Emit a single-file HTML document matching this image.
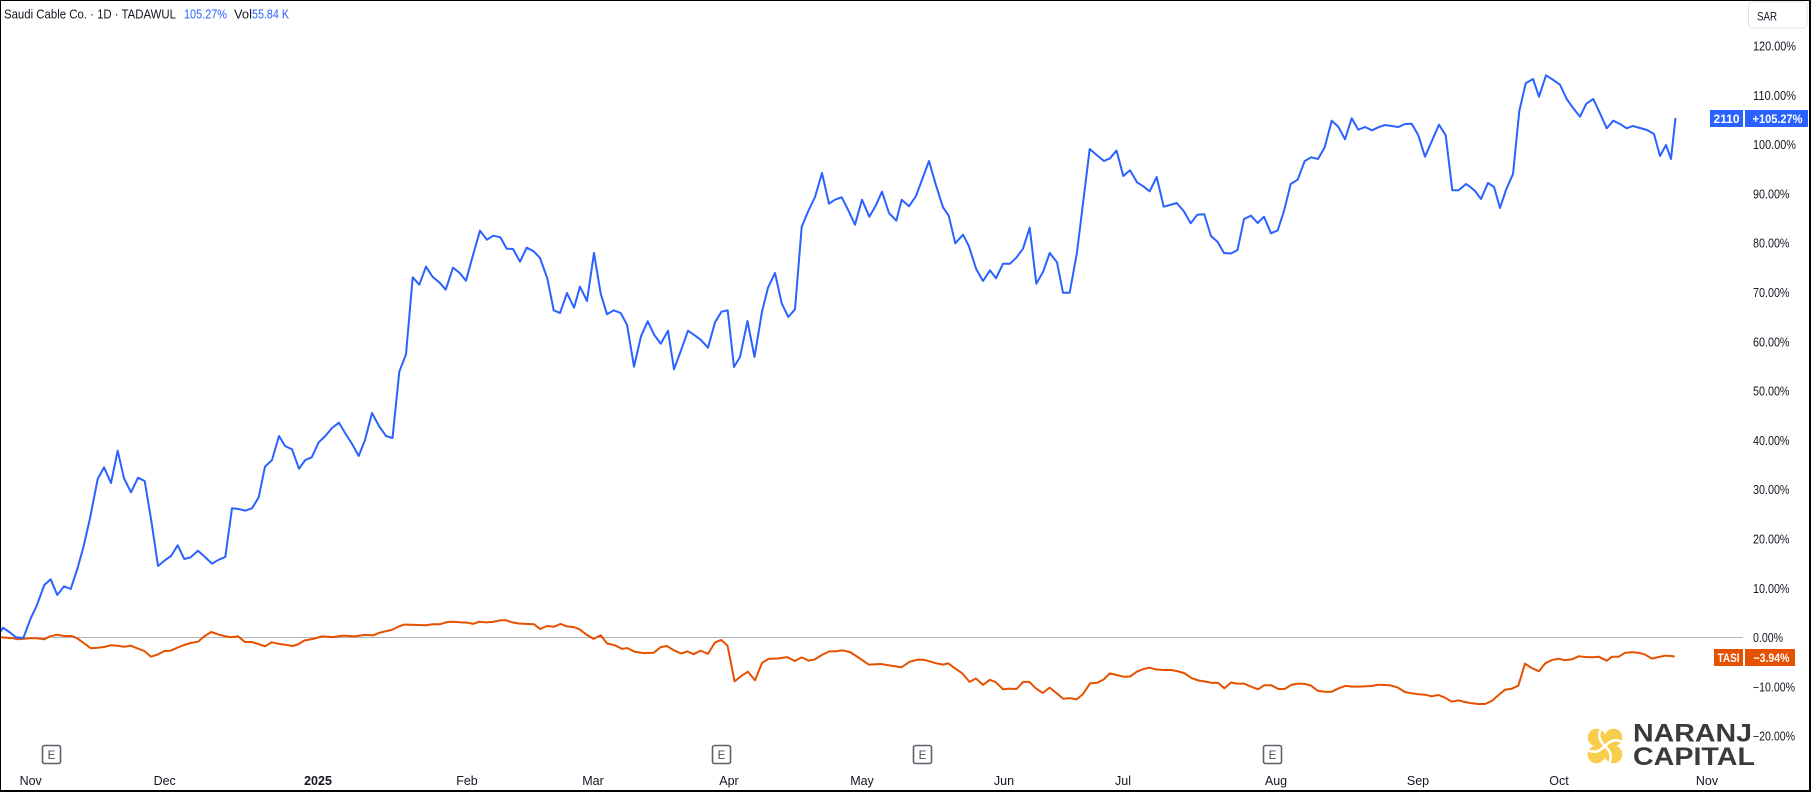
<!DOCTYPE html>
<html>
<head>
<meta charset="utf-8">
<style>
html,body{margin:0;padding:0;background:#fff;}
svg{display:block;}
text{font-family:"Liberation Sans",Arial,sans-serif;}
</style>
</head>
<body>
<svg width="1811" height="792" viewBox="0 0 1811 792" xmlns="http://www.w3.org/2000/svg">
<rect x="0" y="0" width="1811" height="792" fill="#ffffff"/>

<!-- zero line -->
<line x1="0" y1="637.5" x2="1743" y2="637.5" stroke="#b2b5be" stroke-width="1"/>

<!-- header -->
<text x="4" y="18.5" font-size="12.5" fill="#131722" textLength="172" lengthAdjust="spacingAndGlyphs">Saudi Cable Co. · 1D · TADAWUL</text>
<text x="184" y="18.5" font-size="12.5" fill="#2962ff" textLength="43" lengthAdjust="spacingAndGlyphs">105.27%</text>
<text x="234" y="18.5" font-size="12.5" fill="#131722" textLength="18" lengthAdjust="spacingAndGlyphs">Vol</text>
<text x="252" y="18.5" font-size="12.5" fill="#2962ff" textLength="37" lengthAdjust="spacingAndGlyphs">55.84 K</text>

<!-- SAR box -->
<rect x="1748.5" y="2" width="58.5" height="26" rx="4" fill="#fff" stroke="#e0e3eb" stroke-width="1"/>
<text x="1757" y="20.7" font-size="12" fill="#131722" textLength="20" lengthAdjust="spacingAndGlyphs">SAR</text>

<!-- y-axis labels -->
<g font-size="12.5" fill="#131722">
<text x="1753" y="50.5" textLength="43" lengthAdjust="spacingAndGlyphs">120.00%</text>
<text x="1753" y="99.8" textLength="43" lengthAdjust="spacingAndGlyphs">110.00%</text>
<text x="1753" y="149.1" textLength="43" lengthAdjust="spacingAndGlyphs">100.00%</text>
<text x="1753" y="198.4" textLength="36.5" lengthAdjust="spacingAndGlyphs">90.00%</text>
<text x="1753" y="247.7" textLength="36.5" lengthAdjust="spacingAndGlyphs">80.00%</text>
<text x="1753" y="297" textLength="36.5" lengthAdjust="spacingAndGlyphs">70.00%</text>
<text x="1753" y="346.3" textLength="36.5" lengthAdjust="spacingAndGlyphs">60.00%</text>
<text x="1753" y="395.6" textLength="36.5" lengthAdjust="spacingAndGlyphs">50.00%</text>
<text x="1753" y="444.9" textLength="36.5" lengthAdjust="spacingAndGlyphs">40.00%</text>
<text x="1753" y="494.2" textLength="36.5" lengthAdjust="spacingAndGlyphs">30.00%</text>
<text x="1753" y="543.5" textLength="36.5" lengthAdjust="spacingAndGlyphs">20.00%</text>
<text x="1753" y="592.8" textLength="36.5" lengthAdjust="spacingAndGlyphs">10.00%</text>
<text x="1753" y="642.1" textLength="30" lengthAdjust="spacingAndGlyphs">0.00%</text>
<text x="1753" y="691.4" textLength="42" lengthAdjust="spacingAndGlyphs">−10.00%</text>
<text x="1753" y="740.7" textLength="42" lengthAdjust="spacingAndGlyphs">−20.00%</text>
</g>

<!-- x-axis labels -->
<g font-size="12.5" fill="#131722" text-anchor="middle">
<text x="30.7" y="785">Nov</text>
<text x="164.7" y="785">Dec</text>
<text x="318" y="785" font-weight="bold">2025</text>
<text x="467" y="785">Feb</text>
<text x="593" y="785">Mar</text>
<text x="729" y="785">Apr</text>
<text x="862" y="785">May</text>
<text x="1004" y="785">Jun</text>
<text x="1123" y="785">Jul</text>
<text x="1276" y="785">Aug</text>
<text x="1418" y="785">Sep</text>
<text x="1559" y="785">Oct</text>
<text x="1707" y="785">Nov</text>
</g>

<!-- E markers -->
<g font-size="11.5" fill="#4a4a4a" text-anchor="middle">
<rect x="42.5" y="745.5" width="18" height="18" rx="2" fill="#fff" stroke="#5d606b" stroke-width="1.6"/>
<text x="51.5" y="759">E</text>
<rect x="712.5" y="745.5" width="18" height="18" rx="2" fill="#fff" stroke="#5d606b" stroke-width="1.6"/>
<text x="721.5" y="759">E</text>
<rect x="913.5" y="745.5" width="18" height="18" rx="2" fill="#fff" stroke="#5d606b" stroke-width="1.6"/>
<text x="922.5" y="759">E</text>
<rect x="1263.5" y="745.5" width="18" height="18" rx="2" fill="#fff" stroke="#5d606b" stroke-width="1.6"/>
<text x="1272.5" y="759">E</text>
</g>

<!-- TASI orange line -->
<polyline fill="none" stroke="#e65100" stroke-width="2" stroke-linejoin="round" points="0,637.3 13.3,638.3 18.3,639.3 30,638.3 36.7,638.3 44,639.3 50,636.3 57.3,634.7 64,636 71.7,636 77.3,638.3 84,643.3 91,648.3 97.3,647.7 104,647 110.7,645.3 117.3,645.7 124,646.7 130.7,645.7 137.3,648.3 144.3,651 151,656.7 157.3,654.7 164.3,651 170.7,650.7 177.3,647.7 184,645 190.7,643 198,641.7 204.7,636 211.3,632 218,634.3 225,636.3 231.3,637.3 238,636.3 245,642 251.7,642 258.3,644 265,646.3 271.7,642.3 278.3,643.7 285.3,644.7 292.3,646 297.9,644.5 304.3,640.5 313.2,638.9 322.1,636.4 332.9,637.1 343.6,635.6 354.3,636.4 365,634.9 373.2,635.3 379.3,632.8 391.8,629.9 398.9,626.4 404.3,624.6 415,624.9 425.7,625.3 432.9,624.2 440,624.2 447.1,622.1 452.5,621.7 461.4,622.4 468.6,622.8 472.9,623.9 479.3,621.7 486.4,622.4 493.6,621.7 500.7,620.3 506.1,620.3 511.4,622.1 518.6,623.5 525.7,623.9 533.9,624.2 540,628.9 547.1,626 554.3,626.7 560.4,623.9 567.1,626.4 573.9,627.1 579.3,629.2 586.4,634.6 593.6,638.9 600.7,635.3 607.1,643.5 615,645.3 622.1,648.9 627.5,648.1 634.6,651.7 643.6,653.1 653.6,652.8 660.7,647.1 666.8,646 673.9,650.3 681.1,653.5 687.5,651.4 693.6,654.2 700.7,650.6 707.9,653.9 715,642.4 721.1,639.9 727.5,645.6 734.6,681.4 741.8,675.6 747.9,671.7 755,680.3 762.1,662.8 768.6,658.9 777.5,658.5 787.5,657.1 794.6,661 801.8,657.4 808.6,660.6 814.3,659.6 822.1,654.9 829.3,651.4 835.7,651.4 842,650.3 850.1,652.1 856.9,656.5 868.7,664.6 880.6,664 890.7,665.6 901.5,667.3 909.3,661.9 917.8,659.6 924.5,659.9 936.3,663.3 943.1,664.6 948.2,663.3 954.9,668.3 962.4,673.4 969.5,681.9 975.9,678.5 983,684.9 989.8,679.8 995.5,681.9 1003,689.3 1009.7,688.6 1016.5,689 1023.2,681.9 1029.3,681.9 1036.1,688.6 1042.8,693 1049.6,687.6 1056.4,693 1063.1,698.8 1069.9,698.1 1076.6,699.4 1082.7,694.4 1090.2,683.2 1097,682.9 1103.7,679.5 1109.8,673.4 1117.2,675.1 1124,676.8 1130.1,676.5 1136.8,671.7 1143.6,669 1149.3,667.7 1156.1,669.4 1162.9,670 1171.3,670 1178.1,671.4 1184.2,673.1 1191.6,678.1 1198.4,680.5 1205.1,681.5 1211.9,682.9 1218,682.9 1224.4,688.3 1231.1,682.5 1237.2,683.6 1244,683.6 1250.8,686.6 1258.2,689.3 1264.3,685.2 1271,685.2 1278.5,689 1284.6,689 1291.3,684.9 1298.1,683.6 1304.8,683.9 1310.9,685.6 1317.7,690.7 1324.5,691.7 1331.9,691.7 1338.6,688.3 1345.4,685.9 1352.2,686.6 1358.9,686.6 1371.7,686 1378.3,684.7 1390,685.3 1397.3,687.3 1405,692 1411.7,693.3 1418.3,694.3 1425,694.7 1431.7,696.3 1438.3,695 1445,697.7 1451.7,701.7 1458.3,700.3 1465,702 1471.7,703.3 1478.3,704 1485,704 1491.7,701 1498.3,695.3 1505,689.7 1511.7,688.7 1518.3,685.7 1525,663.7 1531.7,668 1539,671.3 1545.3,663.3 1552,660 1558.7,658.7 1565.3,660.3 1572,659.3 1578.7,656.3 1585.3,657 1592,657.3 1598.7,656.7 1606.7,660.7 1612,656.7 1618.7,656.7 1625.3,652.7 1632,652.3 1638.7,652.7 1645.3,654.7 1652,658.7 1658.7,657 1665.3,655.7 1672,656 1674.7,656.7"/>

<!-- 2110 blue line -->
<polyline fill="none" stroke="#2962ff" stroke-width="2" stroke-linejoin="round" points="0,632 3,627.7 10,632.5 16,637.3 23.3,638 31,617.7 36.7,605.7 44.3,585 50.7,579.3 57.3,595 64,586.3 70.7,589 77.3,569 83.3,547.5 90,518.3 97.7,479 104,467.3 111,483 117.7,450.7 124,478.3 131,492.3 138,477.7 144.7,481 151.7,523.3 158,566 165.3,560 171,556 177.7,545.3 184.3,559 190.7,557.3 198,550.7 205,557 212,563.7 218.7,559.7 225.3,557 232,508.3 238.7,509 245.3,510.7 252,508.3 258.7,497.3 265,466.7 272,460 279,436 285,446 292,449.3 299,468.7 305.3,460 311.7,457.3 318.7,442.3 325.3,436 332,428 339,422.7 345.7,434 352.3,444.3 358.7,456 365,440 372,413 379,426 386,436 392.5,438 399.3,371.7 406,354.3 412.7,277.3 419.3,284.7 426,266.7 432.7,277 439.3,282.3 445.7,289.7 453,267.7 459.7,273 466,280.7 473.3,254 480,230.7 487,239.7 493.3,235.7 500.3,237.3 506.7,248.7 513,249 520,261.7 526.7,247.7 533.7,251.3 540,258 547.3,278.3 553.7,310.3 560,313 567,293 574,307.7 580,286.7 587,301 594,253 600.7,293.7 607,314.3 613.7,310.3 620.7,313 627,324.7 634,366.7 641,336.3 647.7,321.3 654.3,335 660.7,343.7 668,330.7 674,369.3 681,350.3 688,330.7 694.7,335.3 701.3,340.3 708,347.7 715,322.3 721.5,311.7 727.7,310.3 734,367 740,357 747.5,321 754.5,357 762,311.7 768,287.7 775,273 781.7,303.3 788.3,317 795,309.3 801.7,226.7 808.3,211 815,197 822,173 829,203.7 835,199.7 841.7,197.3 848,209.7 855,224.7 862,199.7 869.3,216.7 875.7,205.7 882,191.7 889,213 896.3,220.7 901.7,199.7 909,206.3 916,196 922.3,179 929,161 935.7,184.3 943,207.3 948.7,215.7 955.3,243.3 963,234.7 968.7,245.7 976.3,269.3 983,281 990,270.3 996,278.3 1003,263.7 1010,263.7 1016.3,257.7 1023,248.7 1029.7,227.7 1036.3,283.7 1043,272 1049.7,253 1057,262.3 1063,292.7 1069.7,292.7 1077,252.3 1089.7,149 1096.7,155 1104,161 1110,158.3 1116.5,150.5 1123.3,176 1130,170.3 1137,182.3 1143.3,186.3 1149.7,191.3 1156.7,177 1163.7,206.7 1170,205 1176.7,203 1183.7,211 1190.7,223.3 1197.3,214.7 1204.3,214.3 1211,236 1217.7,242 1224,253 1231,253.5 1237.5,250 1244,219 1251,215.7 1257.7,223 1264,216.7 1271,233.3 1277.7,230.3 1284,211 1290.7,184 1297.7,179.7 1304.7,161 1311.3,157.3 1318,159 1324.7,147.3 1331.7,120.7 1338.3,126.7 1345,139.3 1351.7,118.3 1358.3,129.7 1365,127 1372,130.3 1378.3,127.3 1385,125 1391.7,126 1398.3,127 1405,124 1411.7,123.7 1418.3,135.3 1425,156.7 1432,140.7 1439,124.7 1445.7,135.3 1452.3,190.3 1458.7,190.3 1466,184 1470,186.7 1475,191 1481,199 1488,183 1494,187 1500,208 1506,190 1513,174 1519.3,111 1525.7,83.3 1533,79 1539,96.7 1546,75.3 1553.3,80 1560,84.7 1566.7,99 1573.3,108.3 1580,116.7 1586.3,103.7 1593.3,99 1600,113.3 1606.7,128.3 1613.3,120.7 1620,124 1626.7,128.3 1632.7,126 1640,128 1647,130 1654,134 1660,156 1666,145 1671,159 1675.5,118"/>

<!-- price labels -->
<rect x="1710" y="110" width="33" height="17" fill="#2962ff"/>
<rect x="1745" y="110" width="63" height="17" fill="#2962ff"/>
<text x="1726.5" y="123" font-size="12" fill="#fff" font-weight="bold" text-anchor="middle">2110</text>
<text x="1777.5" y="123" font-size="12" fill="#fff" font-weight="bold" text-anchor="middle" textLength="50" lengthAdjust="spacingAndGlyphs">+105.27%</text>

<rect x="1714" y="649" width="29" height="17" fill="#e65100"/>
<rect x="1745" y="649" width="50" height="17" fill="#e65100"/>
<text x="1728.5" y="661.8" font-size="12" fill="#fff" font-weight="bold" text-anchor="middle" textLength="22" lengthAdjust="spacingAndGlyphs">TASI</text>
<text x="1771.5" y="661.8" font-size="12" fill="#fff" font-weight="bold" text-anchor="middle" textLength="36" lengthAdjust="spacingAndGlyphs">−3.94%</text>

<!-- logo icon: four rounded lobes with swirl gaps -->
<g fill="#f9cd4c">
<circle cx="1596.5" cy="737.5" r="8.8"/>
<circle cx="1613.5" cy="737.5" r="8.8"/>
<circle cx="1596.5" cy="754.5" r="8.8"/>
<circle cx="1613.5" cy="754.5" r="8.8"/>
<rect x="1596" y="737" width="18" height="18"/>
</g>
<g fill="none" stroke="#ffffff" stroke-width="2.6" stroke-linecap="round">
<path d="M1605,746 C1600,741 1598,737 1600,731"/>
<path d="M1605,746 C1610,741 1614,739 1620,741"/>
<path d="M1605,746 C1610,751 1612,755 1610,761"/>
<path d="M1605,746 C1600,751 1596,753 1590,751"/>
</g>
<g fill="#3a3a3a" font-weight="bold" font-size="25">
<text x="1633" y="741.7" textLength="119" lengthAdjust="spacingAndGlyphs">NARANJ</text>
<text x="1633" y="765" textLength="122" lengthAdjust="spacingAndGlyphs">CAPITAL</text>
</g>

<!-- outer border -->
<rect x="0" y="0" width="1811" height="1" fill="#000"/>
<rect x="0" y="0" width="1" height="792" fill="#000"/>
<rect x="1809" y="0" width="2" height="792" fill="#000"/>
<rect x="0" y="790" width="1811" height="2" fill="#000"/>
</svg>
</body>
</html>
